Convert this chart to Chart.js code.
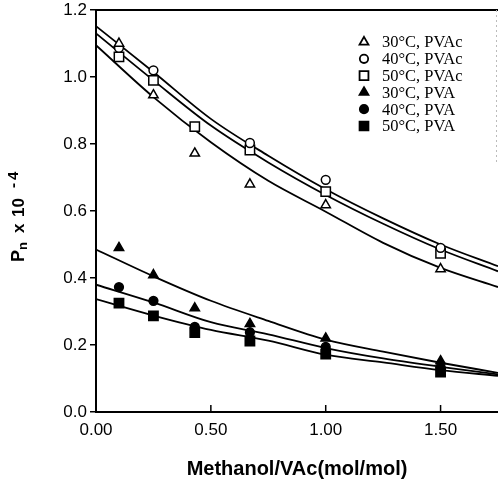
<!DOCTYPE html>
<html>
<head>
<meta charset="utf-8">
<script src="https://cdn.jsdelivr.net/npm/chart.js@4.4.0/dist/chart.umd.min.js"></script>
<style>
    html, body { margin: 0; padding: 0; background: #fff; overflow: hidden; }
    #wrap { width: 498px; height: 484px; position: relative; }
    #pnChart { display: block; }
</style>
</head>
<body>
<div id="wrap"><canvas id="pnChart" width="498" height="484"></canvas></div>
<script>
// methanol/VAc molar ratio of each run
const ratios = [0.10, 0.25, 0.43, 0.67, 1.00, 1.50];

// measured Pn x 10^-4
const pvac30 = [1.100, 0.946, 0.772, 0.680, 0.618, 0.427];
const pvac40 = [1.087, 1.020, null, 0.803, 0.693, 0.490];
const pvac50 = [1.060, 0.990, 0.852, 0.782, 0.658, 0.474];
const pva30 = [0.490, 0.409, 0.310, 0.263, 0.220, 0.152];
const pva40 = [0.373, 0.332, 0.254, 0.238, 0.194, 0.134];
const pva50 = [0.325, 0.287, 0.237, 0.212, 0.173, 0.119];

// fitted curves, read at fixed ratios
const fitRatios = [0, 0.25, 0.50, 0.75, 1.00, 1.25, 1.50, 1.75];
const fitPvac40 = [1.152, 1.015, 0.875, 0.765, 0.665, 0.578, 0.500, 0.435];
const fitPvac50 = [1.130, 0.990, 0.855, 0.745, 0.648, 0.562, 0.485, 0.420];
const fitPvac30 = [1.095, 0.940, 0.805, 0.690, 0.598, 0.505, 0.430, 0.373];
const fitPva30 = [0.485, 0.405, 0.332, 0.272, 0.216, 0.180, 0.147, 0.117];
const fitPva40 = [0.380, 0.327, 0.268, 0.232, 0.191, 0.160, 0.135, 0.112];
const fitPva50 = [0.337, 0.288, 0.245, 0.213, 0.171, 0.148, 0.125, 0.108];

const xTicks = [0, 0.5, 1.0, 1.5];
const yTicks = [0, 0.2, 0.4, 0.6, 0.8, 1.0, 1.2];

const seriesLabels = ['30°C, PVAc', '40°C, PVAc', '50°C, PVAc', '30°C, PVA', '40°C, PVA', '50°C, PVA'];
const seriesValues = [pvac30, pvac40, pvac50, pva30, pva40, pva50];
const seriesStyles = ['triangle', 'circle', 'rect', 'triangle', 'circle', 'rect'];
const seriesFilled = [false, false, false, true, true, true];
const fitCurves = [fitPvac40, fitPvac50, fitPvac30, fitPva30, fitPva40, fitPva50];

const markerRadius = { triangle: 5.4, circle: 4.4, rect: 6.6 };

function pointSet(i) {
    const ys = seriesValues[i];
    const style = seriesStyles[i];
    return {
        label: seriesLabels[i],
        data: ratios.map((x, k) => ({ x: x, y: ys[k] })).filter(p => p.y !== null),
        showLine: false,
        pointStyle: style,
        pointRadius: markerRadius[style],
        pointBackgroundColor: seriesFilled[i] ? '#000' : '#fff',
        pointBorderColor: '#000',
        pointBorderWidth: 1.5,
        order: 0
    };
}

function curveSet(ys) {
    return {
        label: '',
        data: fitRatios.map((x, k) => ({ x: x, y: ys[k] })),
        showLine: true,
        pointRadius: 0,
        borderColor: '#000',
        borderWidth: 1.8,
        cubicInterpolationMode: 'monotone',
        fill: false,
        order: 1
    };
}

// small marker drawer used by the legend
function drawMarker(ctx, style, filled, x, y) {
    const r = markerRadius[style] * 0.95;
    ctx.beginPath();
    if (style === 'circle') {
        ctx.arc(x, y, r, 0, Math.PI * 2);
    } else if (style === 'rect') {
        const s = r * Math.SQRT1_2;
        ctx.rect(x - s, y - s, 2 * s, 2 * s);
    } else {
        ctx.moveTo(x, y - r);
        ctx.lineTo(x + r * 0.866, y + r * 0.5);
        ctx.lineTo(x - r * 0.866, y + r * 0.5);
        ctx.closePath();
    }
    ctx.fillStyle = filled ? '#000' : '#fff';
    ctx.fill();
    ctx.lineWidth = 1.8;
    ctx.strokeStyle = '#000';
    ctx.stroke();
}

const decorations = {
    id: 'decorations',
    afterDraw(chart) {
        const ctx = chart.ctx;
        const area = chart.chartArea;
        const xs = chart.scales.x;

        ctx.save();
        // frame top
        ctx.strokeStyle = '#000';
        ctx.lineWidth = 2;
        ctx.beginPath();
        ctx.moveTo(area.left - 1, area.top);
        ctx.lineTo(area.right, area.top);
        ctx.stroke();

        // faint right edge
        ctx.strokeStyle = '#bbb';
        ctx.lineWidth = 1;
        ctx.setLineDash([2, 3]);
        ctx.beginPath();
        ctx.moveTo(area.right - 1.5, area.top);
        ctx.lineTo(area.right - 1.5, 165);
        ctx.stroke();
        ctx.setLineDash([]);

        // inward tick marks on the x axis
        ctx.strokeStyle = '#000';
        ctx.lineWidth = 1.5;
        xTicks.slice(1).forEach(v => {
            const px = xs.getPixelForValue(v);
            ctx.beginPath();
            ctx.moveTo(px, area.bottom);
            ctx.lineTo(px, area.bottom - 7);
            ctx.stroke();
        });

        // y title: Pn x 10^-4, rotated
        ctx.translate(24, 262);
        ctx.rotate(-Math.PI / 2);
        ctx.fillStyle = '#000';
        ctx.textBaseline = 'alphabetic';
        ctx.textAlign = 'left';
        ctx.font = 'bold 18px "Liberation Sans", Arial, sans-serif';
        ctx.fillText('P', 0, 0);
        ctx.font = 'bold 13px "Liberation Sans", Arial, sans-serif';
        ctx.fillText('n', 12, 3);
        ctx.font = 'bold 17px "Liberation Sans", Arial, sans-serif';
        ctx.fillText('x', 29, 0);
        ctx.fillText('10', 45, 0);
        ctx.font = 'bold 15px "Liberation Sans", Arial, sans-serif';
        ctx.fillText('-', 74, -6);
        ctx.fillText('4', 82, -6);
        ctx.restore();

        // legend block
        ctx.save();
        ctx.font = '16.5px "Liberation Serif", "Times New Roman", serif';
        ctx.textBaseline = 'middle';
        seriesLabels.forEach((label, i) => {
            const y = 42 + i * 16.8;
            drawMarker(ctx, seriesStyles[i], seriesFilled[i], 364, y);
            ctx.fillStyle = '#000';
            ctx.fillText(label, 382, y + 1);
        });
        ctx.restore();
    }
};

const datasets = fitCurves.map(curveSet).concat(seriesLabels.map((_, i) => pointSet(i)));

new Chart(document.getElementById('pnChart'), {
    type: 'scatter',
    data: { datasets: datasets },
    options: {
        responsive: false,
        animation: false,
        layout: { autoPadding: false, padding: { top: 10, right: 0, bottom: 0, left: 0 } },
        plugins: {
            legend: { display: false },
            tooltip: { enabled: false }
        },
        scales: {
            x: {
                type: 'linear',
                min: 0,
                max: 1.75,
                afterFit: s => {
                    s.height = 72;
                    s.paddingLeft = 0;
                    s.paddingRight = 0;
                },
                afterBuildTicks: s => { s.ticks = xTicks.map(v => ({ value: v })); },
                grid: { drawOnChartArea: false, drawTicks: false },
                border: { display: true, color: '#000', width: 2 },
                ticks: {
                    padding: 8,
                    color: '#000',
                    font: { family: '"Liberation Sans", Arial, sans-serif', size: 17 },
                    callback: v => v.toFixed(2)
                },
                title: {
                    display: true,
                    text: 'Methanol/VAc(mol/mol)',
                    color: '#000',
                    font: { family: '"Liberation Sans", Arial, sans-serif', size: 20, weight: 'bold' },
                    padding: { top: 4, bottom: 3 }
                }
            },
            y: {
                type: 'linear',
                min: 0,
                max: 1.2,
                afterFit: s => {
                    s.width = 96;
                    s.paddingTop = 0;
                    s.paddingBottom = 0;
                },
                afterBuildTicks: s => { s.ticks = yTicks.map(v => ({ value: v })); },
                grid: { drawOnChartArea: false, drawTicks: true, tickLength: 6, color: '#000', lineWidth: 1.5 },
                border: { display: true, color: '#000', width: 2 },
                ticks: {
                    padding: 3,
                    color: '#000',
                    font: { family: '"Liberation Sans", Arial, sans-serif', size: 17 },
                    callback: v => v.toFixed(1)
                }
            }
        }
    },
    plugins: [decorations]
});
</script>
</body>
</html>
